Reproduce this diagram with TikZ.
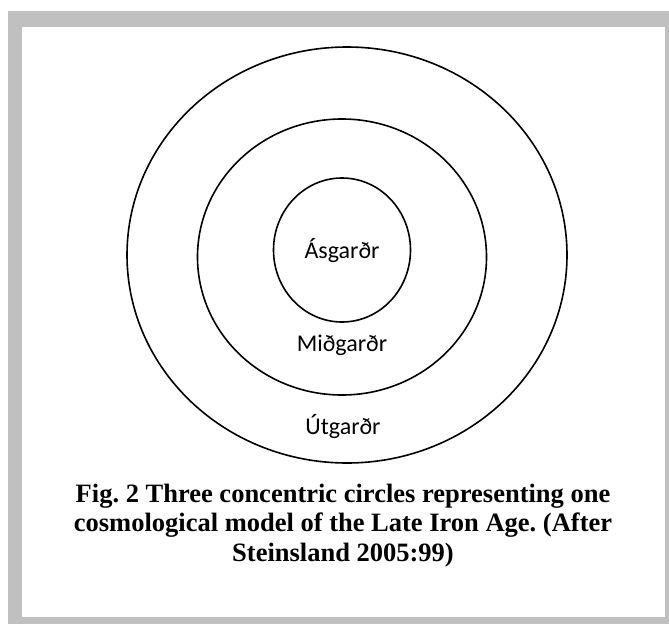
\documentclass[tikz,border=0pt]{standalone}
\usepackage{fontspec}
\setmainfont{Liberation Serif}
\newfontfamily\labelfont{Carlito}
\usetikzlibrary{shapes.geometric}
\definecolor{framegray}{RGB}{192,192,192}
\frenchspacing
\tikzset{
  ring/.style={draw=black, line width=1.6pt, ellipse, inner sep=0pt},
  ringlabel/.style={anchor=base, inner sep=0pt, font=\labelfont\fontsize{24}{28}\selectfont},
  capline/.style={anchor=base, inner sep=0pt, font=\bfseries\fontsize{26.5}{30}\selectfont}
}
\begin{document}
\begin{tikzpicture}[x=1pt,y=-1pt]
\useasboundingbox (0,0) rectangle (669,624);
\fill[white] (0,0) rectangle (669,624);
\fill[framegray] (8,11) rectangle (669,624);
\fill[white] (22,27) rectangle (665,617);
\node[ring, minimum width=440pt, minimum height=416pt] (outer) at (347,255) {};
\node[ring, minimum width=289pt, minimum height=276pt] (middle) at (342,257) {};
\node[ring, minimum width=137pt, minimum height=144pt] (inner) at (342,250) {};
\node[ringlabel] (asg) at (342,258) {Ásgarðr};
\node[ringlabel] (mid) at (342,351) {Miðgarðr};
\node[ringlabel] (utg) at (343,434) {Útgarðr};
\node[capline] (cap1) at (343,502) {Fig. 2 Three concentric circles representing one};
\node[capline] (cap2) at (343,531) {cosmological model of the Late Iron Age. (After};
\node[capline] (cap3) at (343,561) {Steinsland 2005:99)};
\end{tikzpicture}
\end{document}
